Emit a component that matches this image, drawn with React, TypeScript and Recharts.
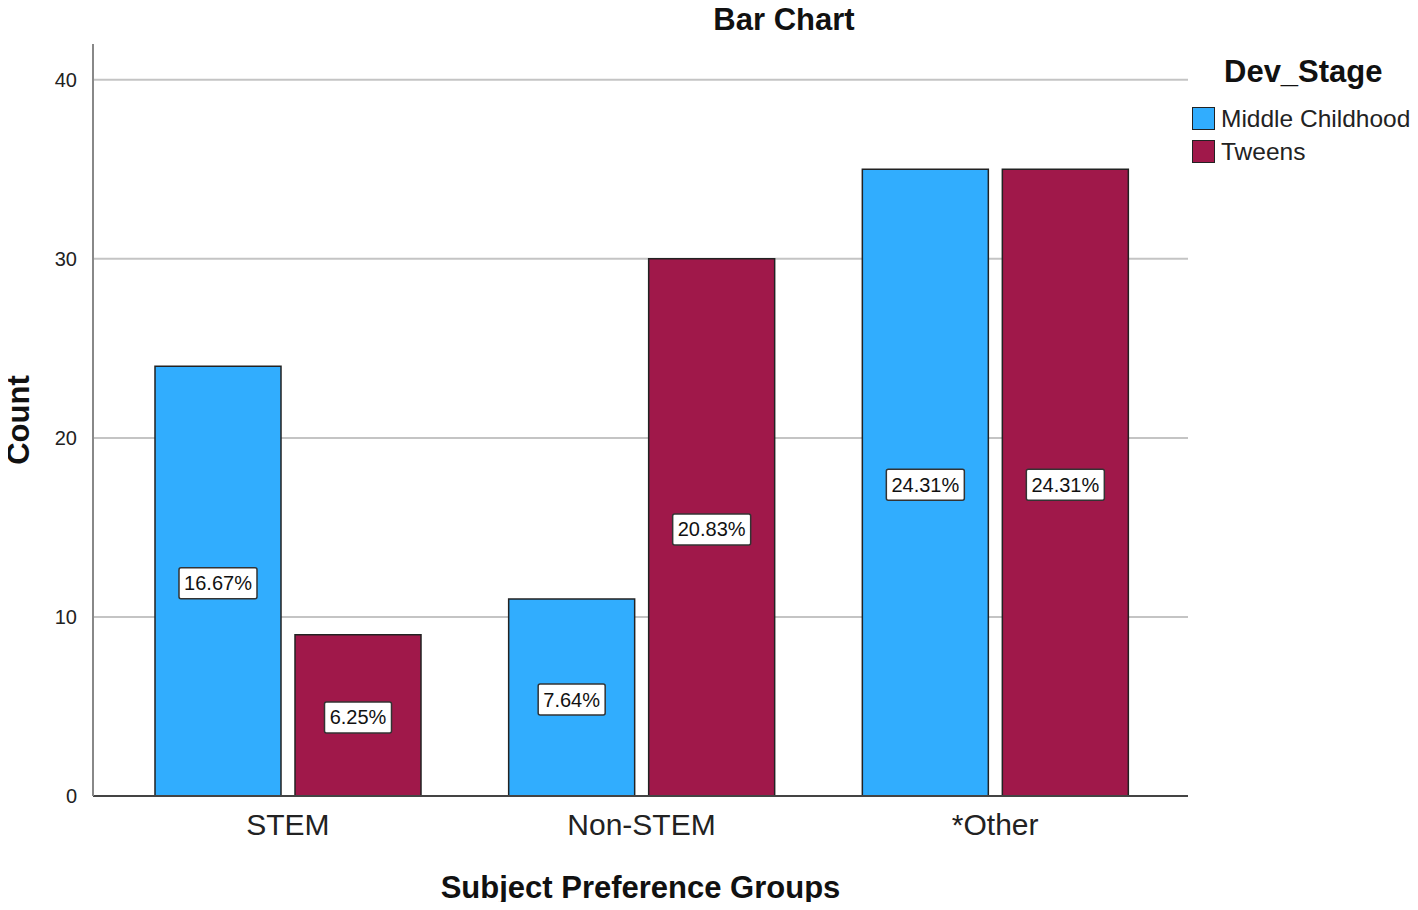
import { BarChart, Bar, XAxis, YAxis, CartesianGrid, LabelList } from 'recharts';

// Subject preference groups split by developmental stage
const groups = ['STEM', 'Non-STEM', '*Other'];
const middleChildhood = [24, 11, 35];
const tweens = [9, 30, 35];
const middlePct = ['16.67%', '7.64%', '24.31%'];
const tweensPct = ['6.25%', '20.83%', '24.31%'];
const yTicks = [0, 10, 20, 30, 40];

const BLUE = '#31adfe';
const MAROON = '#a0184a';
const FONT = 'Arial, "Liberation Sans", sans-serif';

const data = groups.map((g, i) => ({
  group: g,
  mid: middleChildhood[i],
  tw: tweens[i],
  midPct: middlePct[i],
  twPct: tweensPct[i],
}));

/** Boxed percentage label placed in the middle of a bar */
function PctLabel(props: any) {
  const { x, y, width, height, value } = props;
  const cx = x + width / 2;
  const cy = y + height / 2 + 2;
  const w = String(value).length * 11 + 12;
  const h = 31;
  return (
    <g>
      <rect x={cx - w / 2} y={cy - h / 2} width={w} height={h} fill="#fff" stroke="#333" strokeWidth={1.5} rx={2} />
      <text x={cx} y={cy + 7} textAnchor="middle" fontSize={20} fontFamily={FONT} fill="#111">
        {value}
      </text>
    </g>
  );
}

function LegendBox() {
  const items = [
    { name: 'Middle Childhood', color: BLUE },
    { name: 'Tweens', color: MAROON },
  ];
  return (
    <div style={{ position: 'absolute', left: 1192, top: 52, fontFamily: FONT }}>
      <div style={{ fontSize: 31, fontWeight: 'bold', marginLeft: 32, marginBottom: 10, color: '#111', lineHeight: '40px' }}>
        Dev_Stage
      </div>
      {items.map((it) => (
        <div key={it.name} style={{ display: 'flex', alignItems: 'center', height: 33 }}>
          <span
            style={{
              display: 'inline-block',
              width: 21,
              height: 21,
              background: it.color,
              border: '1.5px solid #222',
              marginRight: 6,
            }}
          />
          <span style={{ fontSize: 24.5, color: '#222' }}>{it.name}</span>
        </div>
      ))}
    </div>
  );
}

export default function App() {
  return (
    <div style={{ position: 'relative', width: 1418, height: 910, margin: -8, background: '#fff', fontFamily: FONT }}>
      <div
        style={{
          position: 'absolute',
          left: 784,
          top: 2,
          transform: 'translateX(-50%)',
          fontSize: 31,
          fontWeight: 'bold',
          color: '#111',
          lineHeight: '36px',
          zIndex: 2,
        }}
      >
        Bar Chart
      </div>
      <LegendBox />
      <BarChart
        width={1418}
        height={910}
        data={data}
        margin={{ top: 44, right: 230, bottom: 0, left: 0 }}
        barSize={126}
        barGap={14}
      >
        <CartesianGrid vertical={false} horizontalValues={yTicks} stroke="#c4c4c4" strokeWidth={2} />
        <XAxis
          dataKey="group"
          height={114}
          padding={{ left: 18, right: 16 }}
          tickLine={false}
          tickMargin={12}
          axisLine={{ stroke: '#444', strokeWidth: 2 }}
          tick={{ fontSize: 30, fill: '#222', fontFamily: FONT }}
          label={(p: any) => {
            const vb = p.viewBox;
            return (
              <text
                x={vb.x + vb.width / 2}
                y={vb.y + 102}
                textAnchor="middle"
                fontSize={31}
                fontWeight="bold"
                fontFamily={FONT}
                fill="#111"
              >
                Subject Preference Groups
              </text>
            );
          }}
        />
        <YAxis
          width={93}
          domain={[0, 42]}
          ticks={yTicks}
          tickLine={false}
          tickMargin={10}
          axisLine={{ stroke: '#888', strokeWidth: 2 }}
          tick={{ fontSize: 20, fill: '#222', fontFamily: FONT }}
          label={(p: any) => {
            const vb = p.viewBox;
            const cy = vb.y + vb.height / 2;
            return (
              <text
                x={29}
                y={cy}
                transform={`rotate(-90, 29, ${cy})`}
                textAnchor="middle"
                fontSize={31}
                fontWeight="bold"
                fontFamily={FONT}
                fill="#111"
              >
                Count
              </text>
            );
          }}
        />
        <Bar dataKey="mid" name="Middle Childhood" fill={BLUE} stroke="#222" strokeWidth={1.5} isAnimationActive={false}>
          <LabelList dataKey="midPct" content={<PctLabel />} />
        </Bar>
        <Bar dataKey="tw" name="Tweens" fill={MAROON} stroke="#222" strokeWidth={1.5} isAnimationActive={false}>
          <LabelList dataKey="twPct" content={<PctLabel />} />
        </Bar>
      </BarChart>
    </div>
  );
}
